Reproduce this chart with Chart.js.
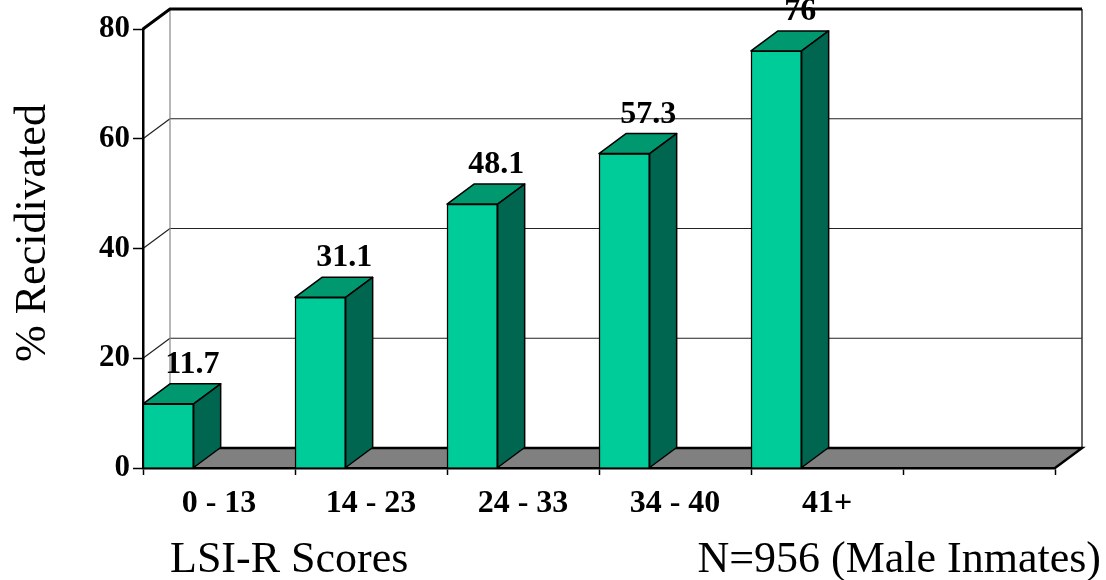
<!DOCTYPE html>
<html>
<head>
<meta charset="utf-8">
<script src="https://cdn.jsdelivr.net/npm/chart.js@4/dist/chart.umd.min.js"></script>
<style>
  html, body { margin: 0; padding: 0; background: #ffffff; }
  #wrap { width: 1106px; height: 580px; }
</style>
</head>
<body>
<div id="wrap"><canvas id="chart" width="1106" height="580"></canvas></div>
<script>
// LSI-R score bands and the share of each band that recidivated
const categories = ['0 - 13', '14 - 23', '24 - 33', '34 - 40', '41+', ''];
const recidivism = [11.7, 31.1, 48.1, 57.3, 76, null];
const yTicks = [0, 20, 40, 60, 80];
const yTitle = '% Recidivated';
const xTitle = 'LSI-R Scores';
const sampleNote = 'N=956 (Male Inmates)';

// two empty series keep each bar in the left third of its band
const spacer = categories.map(() => null);

const SERIF = "'Liberation Serif', 'Times New Roman', serif";
const DX = 27, DY = 20;           // depth offset of the 3-D box
const FRONT = '#00CC99', TOP = '#00996F', SIDE = '#006650', FLOOR = '#808080';

function line(ctx, pts) {
  ctx.beginPath();
  ctx.moveTo(pts[0][0], pts[0][1]);
  for (let i = 1; i < pts.length; i++) ctx.lineTo(pts[i][0], pts[i][1]);
  ctx.stroke();
}
function poly(ctx, pts, fill) {
  ctx.beginPath();
  ctx.moveTo(pts[0][0], pts[0][1]);
  for (let i = 1; i < pts.length; i++) ctx.lineTo(pts[i][0], pts[i][1]);
  ctx.closePath();
  ctx.fillStyle = fill;
  ctx.fill();
  ctx.stroke();
}

const box3d = {
  id: 'box3d',
  beforeDraw(chart) {
    const { ctx, chartArea: a, scales: { y } } = chart;
    const L = a.left, R = a.right;
    const T = y.getPixelForValue(yTicks[yTicks.length - 1]);
    const B = y.getPixelForValue(0);
    ctx.save();
    // floor
    ctx.fillStyle = FLOOR;
    ctx.beginPath();
    ctx.moveTo(L, B); ctx.lineTo(R, B); ctx.lineTo(R + DX, B - DY); ctx.lineTo(L + DX, B - DY);
    ctx.closePath(); ctx.fill();
    // back-wall gridlines and side-wall rungs
    ctx.strokeStyle = '#222'; ctx.lineWidth = 1.2;
    yTicks.forEach(v => {
      const py = y.getPixelForValue(v);
      if (v !== 0 && v !== yTicks[yTicks.length - 1]) line(ctx, [[L + DX, py - DY], [R + DX, py - DY]]);
      line(ctx, [[L, py], [L + DX, py - DY]]);
    });
    // back-wall vertical edges
    ctx.strokeStyle = '#888'; ctx.lineWidth = 1.2;
    line(ctx, [[L + DX, T - DY], [L + DX, B - DY]]);
    ctx.strokeStyle = '#333'; ctx.lineWidth = 1.5;
    line(ctx, [[R + DX, T - DY], [R + DX, B - DY]]);
    // top edge
    ctx.strokeStyle = '#000'; ctx.lineWidth = 3;
    line(ctx, [[L, T], [L + DX, T - DY], [R + DX, T - DY]]);
    // floor back and right edges
    ctx.lineWidth = 2.5;
    line(ctx, [[L + DX, B - DY], [R + DX, B - DY], [R, B]]);
    ctx.restore();
  },
  afterDatasetsDraw(chart) {
    const { ctx } = chart;
    const meta = chart.getDatasetMeta(0);
    ctx.save();
    ctx.strokeStyle = '#000'; ctx.lineWidth = 1.5; ctx.lineJoin = 'round';
    meta.data.forEach((bar, i) => {
      if (recidivism[i] == null) return;
      const { x, y, base, width } = bar.getProps(['x', 'y', 'base', 'width'], true);
      const l = x - width / 2, r = x + width / 2;
      poly(ctx, [[l, y], [r, y], [r + DX, y - DY], [l + DX, y - DY]], TOP);
      poly(ctx, [[r, y], [r + DX, y - DY], [r + DX, base - DY], [r, base]], SIDE);
      ctx.fillStyle = '#000';
      ctx.font = 'bold 32px ' + SERIF;
      ctx.textAlign = 'center'; ctx.textBaseline = 'alphabetic';
      ctx.fillText(String(recidivism[i]), x + 24, y - DY - 11);
    });
    ctx.restore();
  },
  afterDraw(chart) {
    const { ctx } = chart;
    ctx.save();
    ctx.fillStyle = '#000';
    ctx.font = '44px ' + SERIF;
    ctx.textBaseline = 'alphabetic';
    ctx.textAlign = 'left';
    ctx.fillText(xTitle, 170, 572);
    ctx.textAlign = 'right';
    ctx.fillText(sampleNote, 1101, 572);
    ctx.translate(45, 233);
    ctx.rotate(-Math.PI / 2);
    ctx.textAlign = 'center';
    ctx.fillText(yTitle, 0, 0);
    ctx.restore();
  }
};

new Chart(document.getElementById('chart'), {
  type: 'bar',
  data: {
    labels: categories,
    datasets: [
      { label: '% Recidivated', data: recidivism, backgroundColor: FRONT, borderColor: '#000', borderWidth: 1.5 },
      { label: 'spacer-a', data: spacer },
      { label: 'spacer-b', data: spacer }
    ]
  },
  options: {
    responsive: false,
    animation: false,
    devicePixelRatio: 1,
    layout: { padding: { top: 29, right: 51, left: 0, bottom: 0 } },
    datasets: { bar: { categoryPercentage: 1, barPercentage: 1 } },
    plugins: { legend: { display: false }, tooltip: { enabled: false } },
    scales: {
      x: {
        grid: { offset: true, drawOnChartArea: false, drawTicks: true, tickLength: 7, tickColor: '#000', tickWidth: 1.5 },
        border: { display: true, color: '#000', width: 2.5 },
        ticks: { color: '#000', padding: 10, font: { family: SERIF, size: 32, weight: 'bold' } },
        afterFit(scale) { scale.height = 112; }
      },
      y: {
        min: 0, max: 80,
        afterBuildTicks(scale) { scale.ticks = yTicks.map(v => ({ value: v })); },
        grid: { drawOnChartArea: false, drawTicks: true, tickLength: 10, tickColor: '#000', tickWidth: 1.5 },
        border: { display: true, color: '#000', width: 2.5 },
        ticks: { color: '#000', padding: 3, font: { family: SERIF, size: 31, weight: 'bold' } },
        afterFit(scale) { scale.width = 143; }
      }
    }
  },
  plugins: [box3d]
});
</script>
</body>
</html>
